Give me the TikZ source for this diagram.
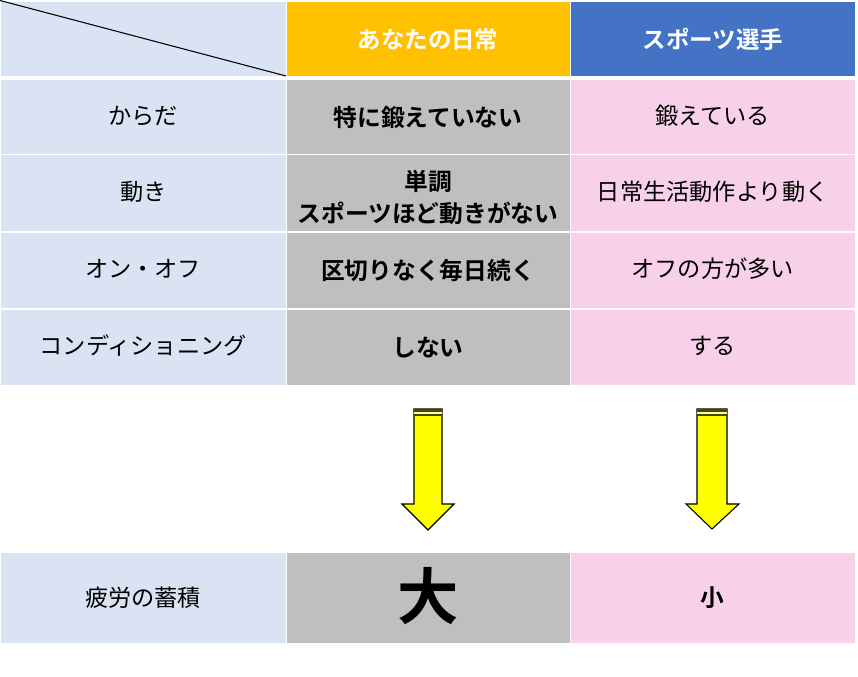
\documentclass[tikz,border=0pt]{standalone}
\usepackage{fontspec}
\setmainfont{Noto Sans CJK JP}
\newfontfamily\jpb{Noto Sans CJK JP Bold}
\definecolor{lblue}{HTML}{DAE3F3}
\definecolor{hdorange}{HTML}{FFC000}
\definecolor{hdblue}{HTML}{4472C4}
\definecolor{cgray}{HTML}{BFBFBF}
\definecolor{cpink}{HTML}{F9D0EA}
\definecolor{aryellow}{HTML}{FFFF00}
\tikzset{
  txtA/.style={inner sep=0pt, align=center, text=black, font=\fontsize{17.4}{21}\selectfont},
  txtB/.style={inner sep=0pt, align=center, text=black, font=\jpb\fontsize{17.8}{21}\selectfont},
  txtH/.style={inner sep=0pt, align=center, text=white, font=\jpb\fontsize{17.6}{21}\selectfont},
  arrowbody/.style={fill=aryellow, draw=black, line width=0.8pt, line join=miter},
  stripedark/.style={fill=black!72!aryellow},
  stripelight/.style={fill=aryellow!45!white},
}
\begin{document}
\begin{tikzpicture}[x=0.75pt,y=-0.75pt]
\useasboundingbox (0,0) rectangle (858,677);
% cell backgrounds
\fill[lblue] (1,2) rectangle (285.5,76);
\fill[hdorange] (286.5,2) rectangle (569.5,76);
\fill[hdblue] (570.5,2) rectangle (855,76);
\foreach \ya/\yb in {80.5/154, 155.2/231.5, 232.7/308.5, 309.7/385, 553/642.5} {
  \fill[lblue] (1,\ya) rectangle (285.5,\yb);
  \fill[cgray] (286.5,\ya) rectangle (569.5,\yb);
  \fill[cpink] (570.5,\ya) rectangle (855,\yb);
}
\coordinate (hnw) at (0,0.5);
\coordinate (hse) at (286,76);
\draw[line width=0.8pt, black] (hnw) -- (hse);
% header
\node[txtH] (h1) at (428,39.5) {あなたの日常};
\node[txtH] (h2) at (712.75,39.5) {スポーツ選手};
% row 1
\node[txtA] (a1) at (143.2,116) {からだ};
\node[txtB] (b1) at (428,117) {特に鍛えていない};
\node[txtA] (c1) at (712.75,116) {鍛えている};
% row 2
\node[txtA] (a2) at (143.2,192) {動き};
\node[txtB] (b2) at (428,197.5) {単調\\[3.5pt]スポーツほど動きがない};
\node[txtA] (c2) at (712.75,192) {日常生活動作より動く};
% row 3
\node[txtA] (a3) at (143.2,269) {オン・オフ};
\node[txtB] (b3) at (428,271) {区切りなく毎日続く};
\node[txtA] (c3) at (712.75,269) {オフの方が多い};
% row 4
\node[txtA] (a4) at (143.2,346) {コンディショニング};
\node[txtB] (b4) at (428,348) {しない};
\node[txtA] (c4) at (712.75,346) {する};
% bottom row
\node[txtA] (a5) at (143.2,598) {疲労の蓄積};
\node[txtB, font=\jpb\fontsize{46}{50}\selectfont] (b5) at (428,596) {大};
\node[txtB] (c5) at (712.75,598) {小};
% left arrow
\coordinate (la) at (428,409);
\draw[arrowbody] (414,409) -- (442,409) -- (442,504) -- (454,504) -- (428,530) -- (402,504) -- (414,504) -- cycle;
\fill[stripedark] (414.4,409.4) rectangle (441.6,411.7);
\fill[stripelight] (414.4,411.7) rectangle (441.6,414.3);
\fill[stripedark] (414.4,414.3) rectangle (441.6,416);
% right arrow
\coordinate (ra) at (712,409);
\draw[arrowbody] (697,409) -- (727,409) -- (727,504) -- (739,504) -- (712,529) -- (686,504) -- (697,504) -- cycle;
\fill[stripedark] (697.4,409.4) rectangle (726.6,411.7);
\fill[stripelight] (697.4,411.7) rectangle (726.6,414.3);
\fill[stripedark] (697.4,414.3) rectangle (726.6,416);
\end{tikzpicture}
\end{document}
